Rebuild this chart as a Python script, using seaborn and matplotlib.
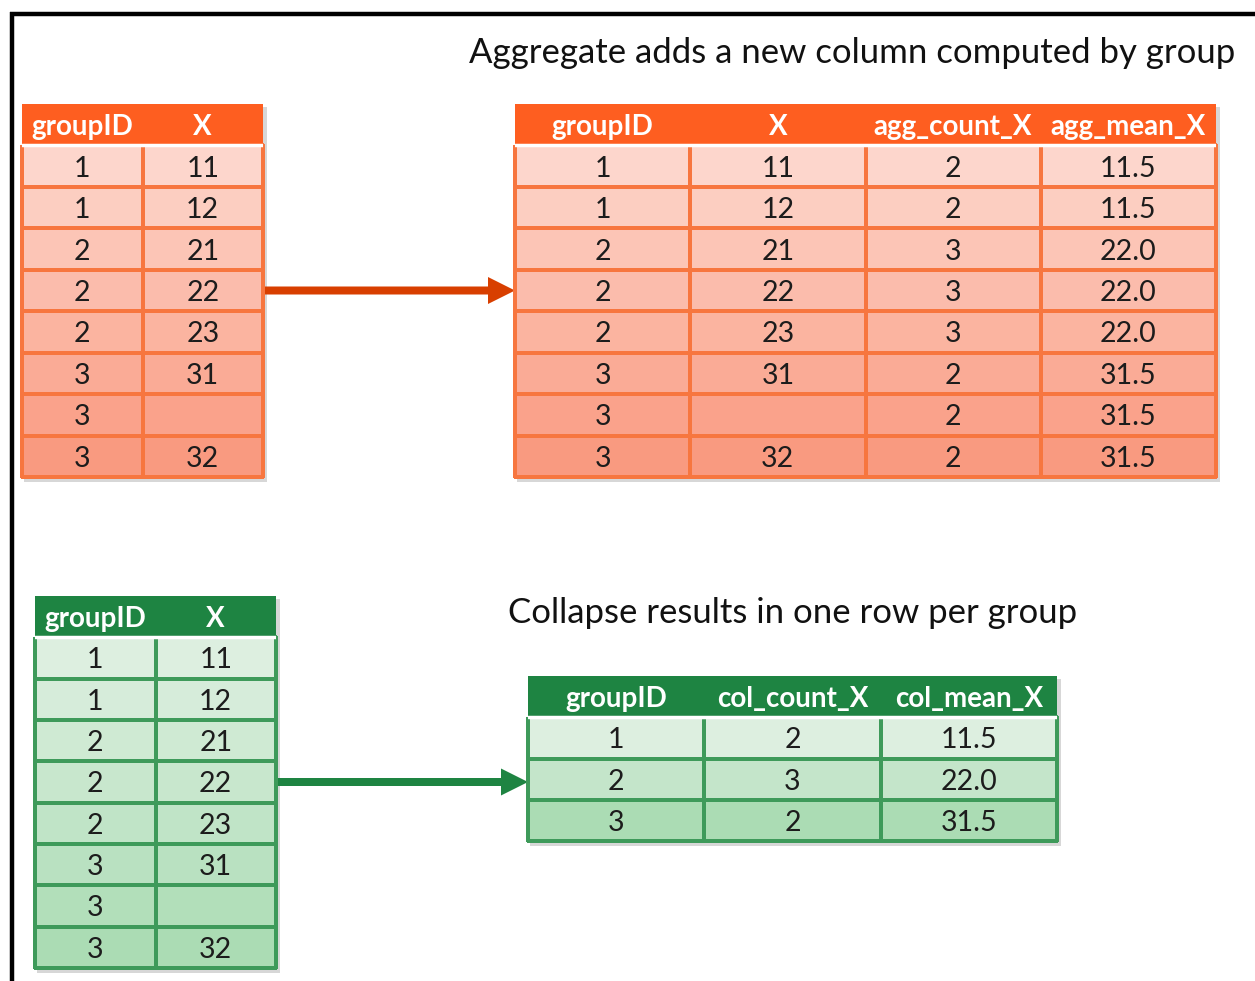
import matplotlib
matplotlib.use("Agg")
import matplotlib.pyplot as plt
import numpy as np
import seaborn as sns
from matplotlib.colors import LinearSegmentedColormap
from matplotlib.patches import Rectangle

W, H = 1255, 981

# --- data -------------------------------------------------------------
group_id = ["1", "1", "2", "2", "2", "3", "3", "3"]
x_vals = ["11", "12", "21", "22", "23", "31", "", "32"]
agg_count_x = ["2", "2", "3", "3", "3", "2", "2", "2"]
agg_mean_x = ["11.5", "11.5", "22.0", "22.0", "22.0", "31.5", "31.5", "31.5"]

col_group_id = ["1", "2", "3"]
col_count_x = ["2", "3", "2"]
col_mean_x = ["11.5", "22.0", "31.5"]

head_in = ["groupID", "X"]
head_agg = ["groupID", "X", "agg_count_X", "agg_mean_X"]
head_col = ["groupID", "col_count_X", "col_mean_X"]

title_agg = "Aggregate adds a new column computed by group"
title_col = "Collapse results in one row per group"

# --- style -------------------------------------------------------------
sns.set_theme(style="white")
plt.rcParams["font.family"] = ["Lato", "DejaVu Sans"]

orange = dict(head="#FE5E20", line="#F7763F", arrow="#D83F00",
              cmap=LinearSegmentedColormap.from_list("o", ["#FDD6CC", "#F99A80"]))
green = dict(head="#1E8442", line="#3E9A5A", arrow="#1E8442",
             cmap=LinearSegmentedColormap.from_list("g", ["#DDEFE0", "#ABDCB4"]))

fig = plt.figure(figsize=(W / 100, H / 100), dpi=100)

# overlay in pixel units for frame, arrows, titles
bg = fig.add_axes([0, 0, 1, 1], zorder=0)
bg.set_xlim(0, W)
bg.set_ylim(H, 0)
bg.axis("off")
bg.plot([10, W], [14, 14], color="black", lw=3.2, solid_capstyle="butt")
bg.plot([12, 12], [12, H], color="black", lw=3.2, solid_capstyle="butt")


def draw_table(box, header, columns, style):
    x0, y0, x1, y1 = box
    ax = fig.add_axes([x0 / W, 1 - y1 / H, (x1 - x0) / W, (y1 - y0) / H], zorder=2)
    cells = np.array(columns).T
    n_rows, n_cols = cells.shape
    shade = np.repeat(np.arange(n_rows)[:, None], n_cols, axis=1)
    # soft shadow
    bg.add_patch(Rectangle((x0 + 2, y0 + 3), x1 - x0 + 2, y1 - y0 + 2,
                           color="#bdbdbd", alpha=0.6, lw=0, zorder=1))
    sns.heatmap(shade, cmap=style["cmap"], vmin=0, vmax=n_rows - 1,
                annot=cells, fmt="", cbar=False,
                linewidths=1.5, linecolor=style["line"], ax=ax,
                annot_kws=dict(fontsize=20.5, color="#1c1c1c"))
    ax.collections[0].set_clip_on(False)
    # nudge cell text slightly down, like the original
    for t in ax.texts:
        tx, ty = t.get_position()
        t.set_position((tx, ty + 0.06))
    ax.set_ylim(n_rows, -1)
    ax.add_patch(Rectangle((0, -1), n_cols, 1, color=style["head"], lw=0, clip_on=False))
    for j, h in enumerate(header):
        ax.text(j + 0.5, -0.45, h, ha="center", va="center", color="white",
                fontsize=20, fontweight="bold")
    ax.axhline(0, color="white", lw=2.5)
    ax.set_xticks([])
    ax.set_yticks([])
    for s in ax.spines.values():
        s.set_visible(False)
    return ax


box_in_o = (22, 104, 263, 477)
box_agg = (515, 104, 1216, 477)
box_in_g = (35, 596, 276, 968)
box_col = (528, 676, 1057, 841)

draw_table(box_in_o, head_in, [group_id, x_vals], orange)
draw_table(box_agg, head_agg, [group_id, x_vals, agg_count_x, agg_mean_x], orange)
draw_table(box_in_g, head_in, [group_id, x_vals], green)
draw_table(box_col, head_col, [col_group_id, col_count_x, col_mean_x], green)


def arrow(src, dst, color):
    y = (src[1] + src[3]) / 2
    bg.arrow(src[2], y, dst[0] - src[2], 0, width=8, head_width=27, head_length=27,
             length_includes_head=True, color=color, lw=0, zorder=3)


arrow(box_in_o, box_agg, orange["arrow"])
arrow(box_in_g, box_col, green["arrow"])

bg.text(852, 53, title_agg, ha="center", va="center", fontsize=25, color="#111111")
bg.text(793, 613, title_col, ha="center", va="center", fontsize=25, color="#111111")

fig.savefig("out.png", dpi=100)
plt.close(fig)
